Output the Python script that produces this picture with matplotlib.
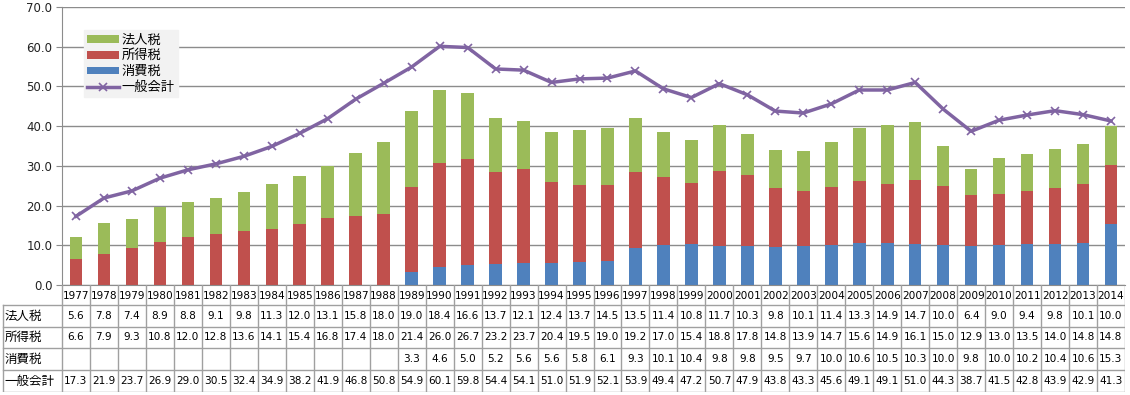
import numpy as np
import matplotlib
matplotlib.use("Agg")
import matplotlib.pyplot as plt

plt.rcParams['font.family'] = ['DejaVu Sans', 'Noto Sans CJK JP']

years = list(range(1977, 2015))
hojin = [5.6, 7.8, 7.4, 8.9, 8.8, 9.1, 9.8, 11.3, 12.0, 13.1, 15.8, 18.0,
         19.0, 18.4, 16.6, 13.7, 12.1, 12.4, 13.7, 14.5, 13.5, 11.4, 10.8, 11.7, 10.3,
         9.8, 10.1, 11.4, 13.3, 14.9, 14.7, 10.0, 6.4, 9.0, 9.4, 9.8, 10.1, 10.0]
shotoku = [6.6, 7.9, 9.3, 10.8, 12.0, 12.8, 13.6, 14.1, 15.4, 16.8, 17.4, 18.0,
           21.4, 26.0, 26.7, 23.2, 23.7, 20.4, 19.5, 19.0, 19.2, 17.0, 15.4, 18.8, 17.8,
           14.8, 13.9, 14.7, 15.6, 14.9, 16.1, 15.0, 12.9, 13.0, 13.5, 14.0, 14.8, 14.8]
shohi = [None] * 12 + [3.3, 4.6, 5.0, 5.2, 5.6, 5.6, 5.8, 6.1, 9.3, 10.1, 10.4, 9.8, 9.8,
                       9.5, 9.7, 10.0, 10.6, 10.5, 10.3, 10.0, 9.8, 10.0, 10.2, 10.4, 10.6, 15.3]
ippan = [17.3, 21.9, 23.7, 26.9, 29.0, 30.5, 32.4, 34.9, 38.2, 41.9, 46.8, 50.8,
         54.9, 60.1, 59.8, 54.4, 54.1, 51.0, 51.9, 52.1, 53.9, 49.4, 47.2, 50.7, 47.9,
         43.8, 43.3, 45.6, 49.1, 49.1, 51.0, 44.3, 38.7, 41.5, 42.8, 43.9, 42.9, 41.3]
row_names = ['法人税', '所得税', '消費税', '一般会計']

c_green = '#9BBB59'
c_red = '#C0504D'
c_blue = '#4F81BD'
c_purple = '#8064A2'
gridc = '#8c8c8c'

W, H = 1130, 395
fig = plt.figure(figsize=(W / 100, H / 100), dpi=100)

# plot area in pixels
px_l, px_r, px_t, px_b = 62, 1125, 7, 285
ax = fig.add_axes([px_l / W, (H - px_b) / H, (px_r - px_l) / W, (px_b - px_t) / H])

x = np.arange(len(years))
sh = np.array([v if v is not None else 0 for v in shohi])
so = np.array(shotoku)
hj = np.array(hojin)
bw = 0.45
b_blue = ax.bar(x, sh, bw, color=c_blue, zorder=2)
b_red = ax.bar(x, so, bw, bottom=sh, color=c_red, zorder=2)
b_green = ax.bar(x, hj, bw, bottom=sh + so, color=c_green, zorder=2)
ln, = ax.plot(x, ippan, color=c_purple, lw=2.5, marker='x', ms=6, mew=1.2, zorder=3)

ax.set_xlim(-0.5, len(years) - 0.5)
ax.set_ylim(0, 70)
ax.set_yticks(np.arange(0, 71, 10))
ax.set_yticklabels(['%.1f' % v for v in np.arange(0, 71, 10)], fontsize=8.5, color='#222222')
ax.yaxis.grid(True, color=gridc, lw=1, zorder=0)
ax.set_xticks([])
for s in ['top', 'right']:
    ax.spines[s].set_visible(False)
ax.spines['left'].set_color(gridc)
ax.spines['bottom'].set_color(gridc)
ax.tick_params(axis='y', length=4, color=gridc, pad=3)

leg = ax.legend([b_green, b_red, b_blue, ln], ['法人税', '所得税', '消費税', '一般会計'],
                loc='upper left', bbox_to_anchor=(0.0207, 0.917), frameon=True,
                fancybox=False, framealpha=1, facecolor='#F2F2F2', edgecolor='#F2F2F2',
                handlelength=2.4, handleheight=0.55, labelspacing=0.22,
                borderpad=0.25, handletextpad=0.2, borderaxespad=0,
                prop={'family': ['Noto Sans CJK JP'], 'size': 9.5})

# data table below the chart
ncol = len(years)
cw = (px_r - px_l) / ncol
tb_top, tb_bot = 285, 392
tax = fig.add_axes([0, (H - tb_bot) / H, px_r / W, (tb_bot - tb_top) / H])
x0 = -0.5 - px_l / cw
tax.set_xlim(x0, ncol - 0.5)
tax.set_ylim(tb_bot - tb_top, 0)
tax.axis('off')
lc = '#a0a0a0'
row_y = [0, 20, 42, 63, 85, 107]
x_lab = -0.5 - (px_l - 3) / cw

# vertical lines
for i in range(ncol + 1):
    tax.plot([i - 0.5, i - 0.5], [0, row_y[-1]], color=lc, lw=1)
tax.plot([x_lab, x_lab], [row_y[1], row_y[-1]], color=lc, lw=1)
# horizontal lines
for yy in row_y[1:]:
    tax.plot([x_lab, ncol - 0.5], [yy, yy], color=lc, lw=1)

for i, yr in enumerate(years):
    tax.text(i, (row_y[0] + row_y[1]) / 2 + 1, str(yr), ha='center', va='center',
             fontsize=7.6)

rows = [hojin, shotoku, shohi, ippan]
for r, (name, vals) in enumerate(zip(row_names, rows)):
    yc = (row_y[r + 1] + row_y[r + 2]) / 2
    tax.text(x_lab + 0.05, yc, name, ha='left', va='center', fontsize=9,
             family=['Noto Sans CJK JP'])
    for i, v in enumerate(vals):
        if v is None:
            continue
        tax.text(i, yc, '%.1f' % v, ha='center', va='center', fontsize=7.6)

fig.savefig('out.png', dpi=100)
